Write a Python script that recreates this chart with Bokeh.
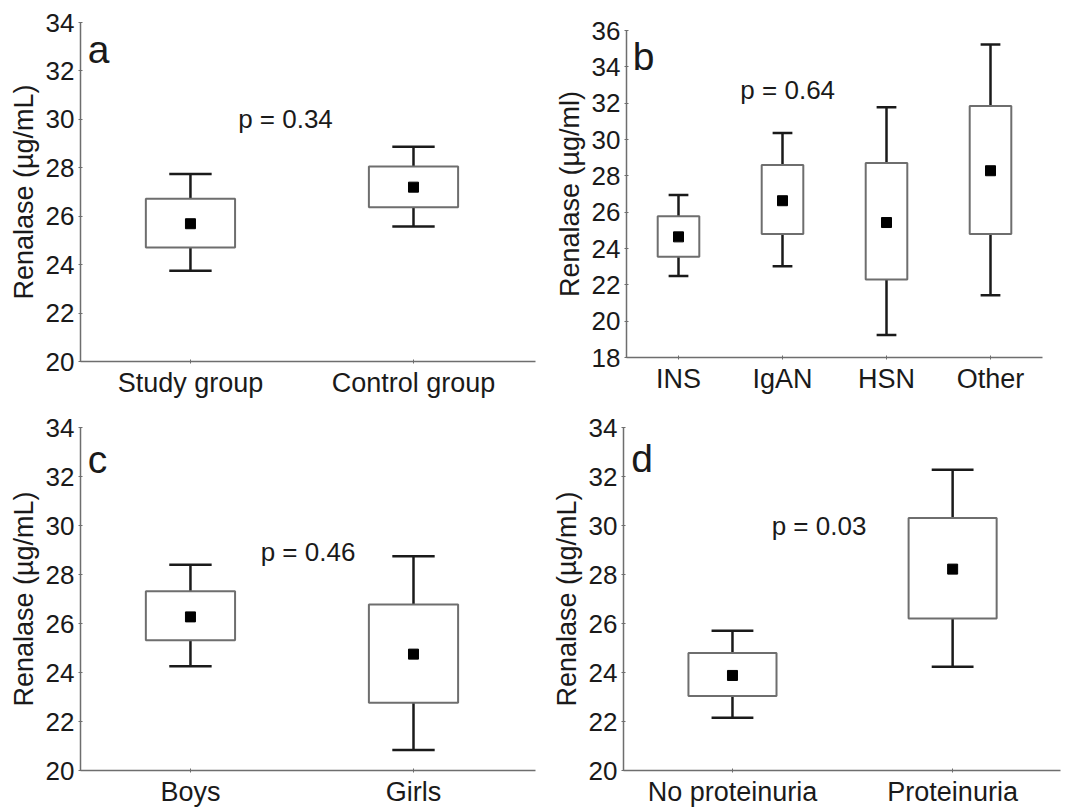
from bokeh.plotting import figure
from bokeh.layouts import column, row
from bokeh.models import FixedTicker, Label
from bokeh.embed import file_html
from bokeh.resources import INLINE

FONT = "Liberation Sans"

# ---- data ----
a_cats = ["Study group", "Control group"]
a_wlo = [23.75, 25.58]
a_q1 = [24.71, 26.37]
a_mean = [25.69, 27.2]
a_q3 = [26.72, 28.05]
a_whi = [27.74, 28.87]

b_cats = ["INS", "IgAN", "HSN", "Other"]
b_wlo = [22.49, 23.02, 19.24, 21.42]
b_q1 = [23.54, 24.8, 22.3, 24.8]
b_mean = [24.64, 26.63, 25.43, 28.28]
b_q3 = [25.78, 28.59, 28.7, 31.85]
b_whi = [26.94, 30.36, 31.77, 35.23]

c_cats = ["Boys", "Girls"]
c_wlo = [24.26, 20.84]
c_q1 = [25.32, 22.77]
c_mean = [26.27, 24.75]
c_q3 = [27.32, 26.78]
c_whi = [28.4, 28.74]

d_cats = ["No proteinuria", "Proteinuria"]
d_wlo = [22.15, 24.23]
d_q1 = [23.04, 26.2]
d_mean = [23.88, 28.22]
d_q3 = [24.8, 30.31]
d_whi = [25.7, 32.28]

panels = [
    dict(letter="a", cats=a_cats, wlo=a_wlo, q1=a_q1, mean=a_mean, q3=a_q3, whi=a_whi,
         p="p = 0.34", px=1.426, py=30.0, ylab="Renalase (µg/mL)",
         yr=(20, 34), xr=(0.507, 2.547), w=540, h=400, bl=80, br=5, bt=22, bb=38,
         lx=0.54, ly=32.87),
    dict(letter="b", cats=b_cats, wlo=b_wlo, q1=b_q1, mean=b_mean, q3=b_q3, whi=b_whi,
         p="p = 0.64", px=2.05, py=32.7, ylab="Renalase (µg/ml)",
         yr=(18, 36), xr=(0.5, 4.5), w=547, h=400, bl=86, br=45, bt=30, bb=43,
         lx=0.56, ly=34.57),
    dict(letter="c", cats=c_cats, wlo=c_wlo, q1=c_q1, mean=c_mean, q3=c_q3, whi=c_whi,
         p="p = 0.46", px=1.527, py=28.9, ylab="Renalase (µg/mL)",
         yr=(20, 34), xr=(0.507, 2.547), w=540, h=409, bl=80, br=5, bt=27, bb=38,
         lx=0.54, ly=32.68),
    dict(letter="d", cats=d_cats, wlo=d_wlo, q1=d_q1, mean=d_mean, q3=d_q3, whi=d_whi,
         p="p = 0.03", px=1.393, py=30.0, ylab="Renalase (µg/mL)",
         yr=(20, 34), xr=(0.505, 2.49), w=547, h=409, bl=83, br=27, bt=27, bb=38,
         lx=0.54, ly=32.74),
]

BOX_W = 0.4
CAP_W = 0.19

figs = []
for P in panels:
    f = figure(width=P["w"], height=P["h"], output_backend="svg", toolbar_location=None,
               title=None, x_range=P["xr"], y_range=P["yr"],
               min_border_left=P["bl"], min_border_right=P["br"],
               min_border_top=P["bt"], min_border_bottom=P["bb"])
    f.outline_line_color = None
    f.xgrid.visible = False
    f.ygrid.visible = False
    f.background_fill_color = "white"
    f.border_fill_color = "white"

    xs = [i + 1 for i in range(len(P["cats"]))]
    # whiskers
    f.segment(x0=xs, y0=P["q3"], x1=xs, y1=P["whi"], line_color="#1a1a1a", line_width=2.5)
    f.segment(x0=xs, y0=P["wlo"], x1=xs, y1=P["q1"], line_color="#1a1a1a", line_width=2.5)
    f.segment(x0=[x - CAP_W / 2 for x in xs], y0=P["whi"], x1=[x + CAP_W / 2 for x in xs],
              y1=P["whi"], line_color="#1a1a1a", line_width=2.5)
    f.segment(x0=[x - CAP_W / 2 for x in xs], y0=P["wlo"], x1=[x + CAP_W / 2 for x in xs],
              y1=P["wlo"], line_color="#1a1a1a", line_width=2.5)
    # boxes
    f.quad(left=[x - BOX_W / 2 for x in xs], right=[x + BOX_W / 2 for x in xs],
           bottom=P["q1"], top=P["q3"], fill_color="white", line_color="#6e6e6e", line_width=2)
    # means
    f.scatter(x=xs, y=P["mean"], marker="square", size=10, fill_color="black", line_color="black")

    f.add_layout(Label(x=P["px"], y=P["py"], text=P["p"], text_align="center",
                       text_baseline="middle", text_font=FONT, text_font_size="26px",
                       text_color="#1a1a1a"))
    f.add_layout(Label(x=P["lx"], y=P["ly"], text=P["letter"], text_align="left",
                       text_baseline="middle", text_font=FONT, text_font_size="39px",
                       text_color="#1a1a1a"))

    # axes
    lo, hi = P["yr"]
    f.yaxis.ticker = FixedTicker(ticks=list(range(lo, hi + 1, 2)))
    f.xaxis.ticker = FixedTicker(ticks=xs)
    f.xaxis.major_label_overrides = {x: c for x, c in zip(xs, P["cats"])}
    for ax in (f.xaxis[0], f.yaxis[0]):
        ax.axis_line_color = "#6e6e6e"
        ax.axis_line_width = 1.5
        ax.major_tick_line_color = "#6e6e6e"
        ax.major_tick_out = 2
        ax.major_tick_in = 2
        ax.minor_tick_line_color = None
        ax.major_label_text_font = FONT
        ax.major_label_text_color = "#1a1a1a"
        ax.axis_label_text_font = FONT
        ax.axis_label_text_font_size = "27px"
        ax.axis_label_text_font_style = "normal"
        ax.axis_label_text_color = "#1a1a1a"
    f.yaxis.major_label_text_font_size = "26px"
    f.xaxis.major_label_text_font_size = "27px"
    f.yaxis.major_label_standoff = 4
    f.xaxis.major_label_standoff = 4
    f.yaxis.axis_label = P["ylab"]
    f.yaxis.axis_label_standoff = 4
    figs.append(f)

layout = column(row(column(figs[0]), column(figs[1])),
                row(column(figs[2]), column(figs[3])))
open("out.html", "w").write(file_html(layout, INLINE))
